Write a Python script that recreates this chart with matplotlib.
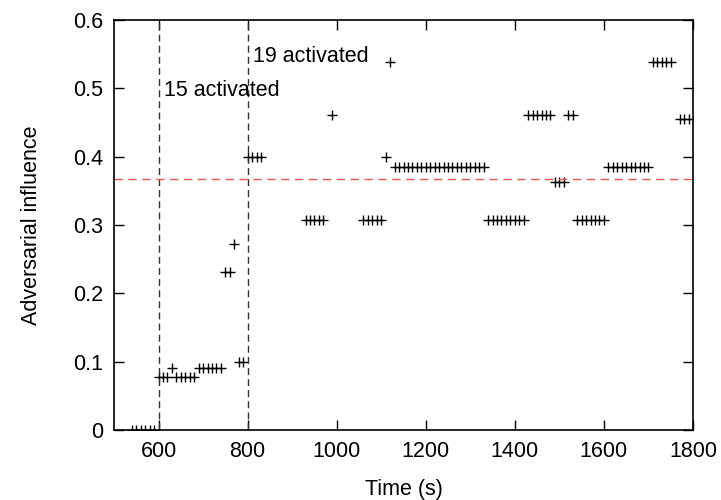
import matplotlib
matplotlib.use("Agg")
import matplotlib.pyplot as plt

plt.rcParams['font.family'] = ['Liberation Sans', 'DejaVu Sans']

# datos: (tiempo, influencia)
t_zero = [540, 550, 560, 570, 580, 590]
t_a = [600, 610, 620, 640, 650, 660, 670, 680]          # 1/13
t_b = [630, 690, 700, 710, 720, 730, 740]               # 1/11
t_c = [750, 760]                                        # 3/13
t_d = [770]                                             # 3/11
t_e = [780, 790]                                        # 1/10
t_f = [800, 810, 820, 830, 1110]                        # 0.4
t_g = [930, 940, 950, 960, 970, 1060, 1070, 1080, 1090, 1100,
       1340, 1350, 1360, 1370, 1380, 1390, 1400, 1410, 1420,
       1540, 1550, 1560, 1570, 1580, 1590, 1600]        # 4/13
t_h = [990, 1430, 1440, 1450, 1460, 1470, 1480, 1520, 1530]  # 6/13
t_i = [1120, 1710, 1720, 1730, 1740, 1750]              # 7/13
t_j = list(range(1130, 1331, 10)) + list(range(1610, 1701, 10))  # 5/13
t_k = [1490, 1500, 1510]                                # 4/11
t_l = [1770, 1780, 1790]                                # 5/11

groups = [
    (t_zero, 0.0), (t_a, 1 / 13), (t_b, 1 / 11), (t_c, 3 / 13), (t_d, 3 / 11),
    (t_e, 0.1), (t_f, 0.4), (t_g, 4 / 13), (t_h, 6 / 13), (t_i, 7 / 13),
    (t_j, 5 / 13), (t_k, 4 / 11), (t_l, 5 / 11),
]
times = []
values = []
for ts, v in groups:
    times += ts
    values += [v] * len(ts)

activations = [600, 800]
activation_labels = ["15 activated", "19 activated"]
label_pos = [(613, 0.489), (811, 0.539)]
threshold = 0.367

fig = plt.figure(figsize=(7.21, 5.0), dpi=100)
ax = fig.add_axes([114 / 721, 70 / 500, (693 - 114) / 721, 410 / 500])

ax.plot(times, values, linestyle='none', marker='+', color='black',
        markersize=6.5, markeredgewidth=1.0)

for x in activations:
    ax.axvline(x, color='#333333', linestyle=(0, (5, 3)), linewidth=1.0)
ax.axhline(threshold, color='#e85555', linestyle=(0, (6, 4)), linewidth=1.0)

for txt, (x, y) in zip(activation_labels, label_pos):
    ax.text(x, y, txt, ha='left', va='baseline', fontsize=15.5)

ax.set_xlim(500, 1800)
ax.set_ylim(0, 0.6)
ax.set_xticks(range(600, 1801, 200))
ax.set_yticks([0, 0.1, 0.2, 0.3, 0.4, 0.5, 0.6])
ax.set_yticklabels(['0', '0.1', '0.2', '0.3', '0.4', '0.5', '0.6'])
ax.tick_params(direction='in', top=True, right=True, length=7, width=1.0,
               labelsize=15.5, pad=8)
for s in ax.spines.values():
    s.set_linewidth(1.2)

ax.set_xlabel("Time (s)", fontsize=15.5, labelpad=12)
ax.set_ylabel("Adversarial influence", fontsize=15.5, labelpad=22)

plt.savefig("out.png", dpi=100)
plt.close()
